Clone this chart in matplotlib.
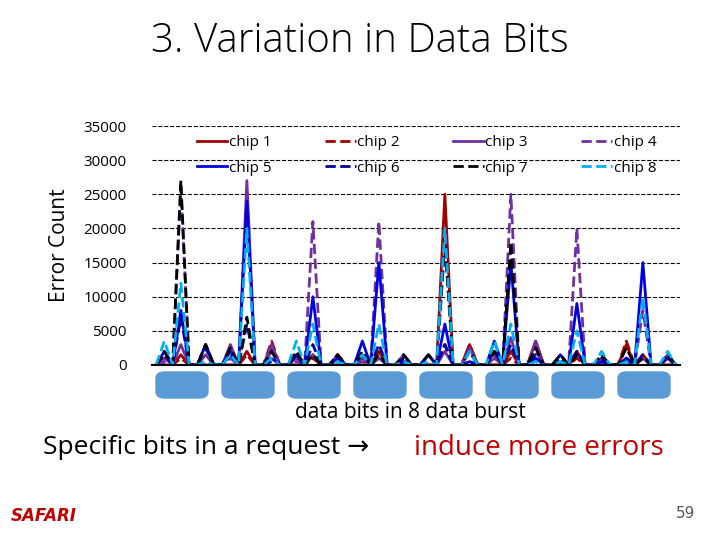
import matplotlib
matplotlib.use("Agg")
import matplotlib.pyplot as plt
from matplotlib.patches import FancyBboxPatch
import numpy as np

n = 64
big = [3, 11, 19, 27, 35, 43, 51, 59]
small = [1, 6, 9, 14, 17, 22, 25, 30, 33, 38, 41, 46, 49, 54, 57, 62]

big_vals = {
    "chip 1": [1500, 2000, 1500, 2000, 25000, 2000, 2000, 1500],
    "chip 2": [1000, 1500, 1000, 1000, 3000, 1000, 1000, 1000],
    "chip 3": [3000, 27000, 1500, 1000, 2000, 4000, 1500, 1000],
    "chip 4": [26000, 24000, 21000, 21000, 18000, 25000, 20000, 8000],
    "chip 5": [8000, 24000, 10000, 15000, 6000, 15000, 9000, 15000],
    "chip 6": [7000, 6000, 3000, 3000, 3000, 3000, 2000, 1500],
    "chip 7": [27000, 7000, 1500, 1500, 18000, 18000, 1500, 1000],
    "chip 8": [12000, 20000, 6000, 6000, 20000, 6000, 5000, 10000],
}
small_vals = {
    "chip 1": [0, 0, 0, 2500, 0, 0, 0, 0, 0, 3000, 0, 3500, 0, 0, 3000, 0],
    "chip 2": [0, 0, 0, 3500, 0, 0, 1500, 0, 0, 3000, 0, 3000, 0, 0, 3500, 0],
    "chip 3": [1000, 1500, 3000, 3000, 1000, 1500, 1000, 1500, 0, 2500, 1000, 3500, 0, 1000, 1000, 1500],
    "chip 4": [500, 3000, 1000, 2000, 500, 1000, 500, 1000, 0, 2000, 1500, 2000, 0, 500, 500, 1000],
    "chip 5": [2000, 3000, 2000, 1000, 1500, 1000, 3500, 500, 1500, 500, 3500, 1000, 1500, 500, 1000, 1000],
    "chip 6": [1500, 2500, 1500, 500, 1500, 1500, 1500, 1000, 1500, 500, 2000, 1500, 1000, 1000, 1000, 1000],
    "chip 7": [2000, 3000, 2500, 2000, 2000, 1500, 2000, 1500, 1500, 2000, 2000, 2500, 1500, 1500, 2500, 1500],
    "chip 8": [3500, 500, 1500, 1000, 3500, 500, 1500, 500, 500, 2000, 3500, 500, 500, 2000, 500, 2000],
}
chips = list(big_vals.keys())
colors = ["#a00000", "#a00000", "#7030a0", "#7030a0", "#0000e0", "#0000a0", "#000000", "#00b0f0"]
styles = ["-", "--", "-", "--", "-", "--", "--", "--"]
yticks = [0, 5000, 10000, 15000, 20000, 25000, 30000, 35000]

fig = plt.figure(figsize=(7.2, 5.4), dpi=100)
ax = fig.add_axes([152/720, 1-365/540, (680-152)/720, (365-126)/540])
x = np.arange(n)
handles = {}
for c, col, ls in zip(chips, colors, styles):
    y = np.zeros(n)
    y[big] = big_vals[c]
    y[small] = small_vals[c]
    handles[c], = ax.plot(x, y, color=col, ls=ls, lw=2, label=c)
ax.set_xlim(-0.5, 63.5)
ax.set_ylim(0, 35000)
ax.set_yticks(yticks)
ax.set_yticklabels([str(v) for v in yticks], fontsize=11, family="Open Sans")
ax.tick_params(axis="y", length=0, pad=18)
ax.set_xticks([])
ax.grid(axis="y", ls="--", color="black", lw=0.8)
for s in ["top", "right", "left"]:
    ax.spines[s].set_visible(False)
ax.spines["bottom"].set_linewidth(1.5)
order = ["chip 1", "chip 5", "chip 2", "chip 6", "chip 3", "chip 7", "chip 4", "chip 8"]
ax.legend([handles[o] for o in order], order, ncol=4, loc="upper center",
          bbox_to_anchor=(0.52, 1.02), frameon=False,
          handlelength=2, columnspacing=3.5, labelspacing=0.7,
          handletextpad=0.1, prop={"family": "Open Sans", "size": 11})
ax.set_ylabel("Error Count", fontsize=15, family="Open Sans", labelpad=10)

for i in range(8):
    bx = 156 + i * 66
    p = FancyBboxPatch((bx/720, 1-398/540), 52/720, 26/540,
                       boxstyle="round,pad=0,rounding_size=0.012",
                       transform=fig.transFigure, color="#5b9bd5")
    fig.patches.append(p)

fig.text(0.5, 1-42/540, "3. Variation in Data Bits", ha="center", va="center",
         fontsize=29, family="Open Sans", fontweight="light")
fig.text(0.57, 1-413/540, "data bits in 8 data burst", ha="center", va="center",
         fontsize=15, family="Open Sans")
fig.text(0.06, 1-448/540, "Specific bits in a request \u2192 ", ha="left", va="center",
         fontsize=19, family=["Open Sans", "DejaVu Sans"])
fig.text(0.575, 1-448/540, "induce more errors", ha="left", va="center",
         fontsize=20, family="Open Sans", color="#c00000")
fig.text(0.015, 1-516/540, "SAFARI", ha="left", va="center", fontsize=12,
         color="#c00000", fontweight="bold", style="italic")
fig.text(0.965, 1-514/540, "59", ha="right", va="center", fontsize=11, color="#555555")
fig.savefig("out.png", dpi=100)
